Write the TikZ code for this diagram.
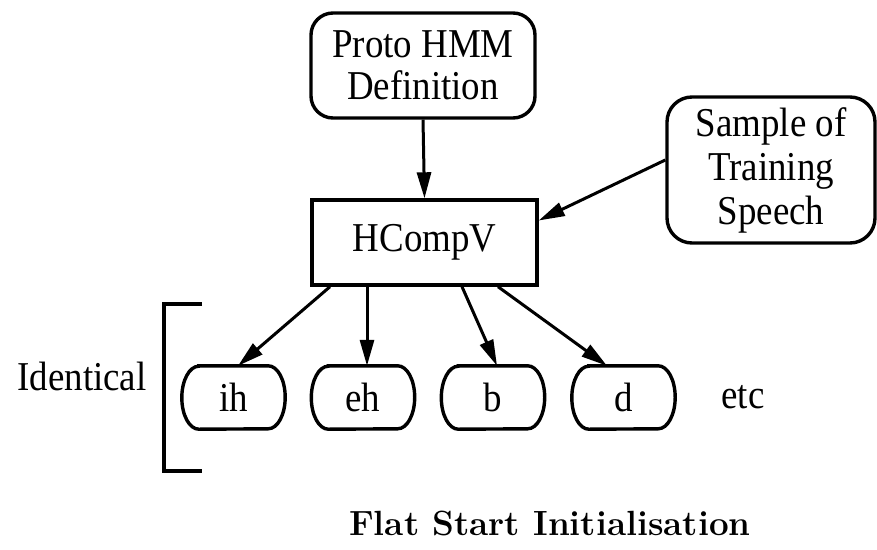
\documentclass[tikz,border=0pt]{standalone}
\usepackage{fontspec}
\newfontfamily\tms[FakeStretch=0.9]{Liberation Serif}
\usetikzlibrary{arrows.meta}
\tikzset{
  lbl/.style={font=\tms\fontsize{41}{42}\selectfont, align=center, inner sep=0pt},
  rbox/.style={lbl, draw, line width=3.4pt, rounded corners=22pt},
  sbox/.style={lbl, draw, line width=3.4pt},
  phone/.style={lbl, minimum width=103pt, minimum height=63pt},
  phoneline/.style={line width=3.4pt},
  arr/.style={line width=3pt, -{Triangle[length=26pt,width=14pt]}},
  brk/.style={line width=3.8pt}
}
\newcommand\ovalframe[1]{%
  \draw[phoneline] ([xshift=17pt]#1.north west) -- ([xshift=-17pt]#1.north east)
    arc[start angle=90,end angle=-90,x radius=17pt,y radius=31.5pt]
    -- ([xshift=17pt]#1.south west)
    arc[start angle=270,end angle=90,x radius=17pt,y radius=31.5pt] -- cycle;}
\begin{document}
\begin{tikzpicture}[x=1pt,y=-1pt]
\useasboundingbox (0,0) rectangle (877,549);
\node[rbox, minimum width=224pt, minimum height=105pt] (proto) at (423,65.5) {Proto HMM\\Definition};
\node[sbox, minimum width=225pt, minimum height=85pt] (hc) at (424.5,242.5) {HCompV};
\node[rbox, minimum width=208pt, minimum height=146pt, rounded corners=25pt] (sample) at (771,170) {Sample of\\[2pt]Training\\[2pt]Speech};
\node[phone] (ih) at (233.5,397.5) {ih};
\node[phone] (eh) at (363,397.5) {eh};
\node[phone] (b) at (493,397.5) {b};
\node[phone] (d) at (623.5,397.5) {d};
\ovalframe{ih}
\ovalframe{eh}
\ovalframe{b}
\ovalframe{d}
\node[lbl, anchor=base] (etc) at (743,408) {etc};
\node[lbl, anchor=base] (ident) at (82,390) {Identical};
\node[font=\bfseries\fontsize{35}{38}\selectfont, inner sep=0pt, anchor=base] (title) at (550,535) {Flat Start Initialisation};
\draw[arr] (proto.south) -- (hc.north);
\draw[arr] ([yshift=10pt]sample.west) -- ([yshift=22pt]hc.east);
\draw[arr] ([xshift=-94.5pt]hc.south) -- ([xshift=4.5pt]ih.north);
\draw[arr] ([xshift=-57.5pt]hc.south) -- ([xshift=4pt]eh.north);
\draw[arr] ([xshift=37.5pt]hc.south) -- ([xshift=4pt]b.north);
\draw[arr] ([xshift=73.5pt]hc.south) -- ([xshift=-16.5pt]d.north);
\coordinate (bt) at (202,304);
\coordinate (bb) at (202,471);
\draw[brk] (bt) -- (164,304) -- (164,471) -- (bb);
\end{tikzpicture}
\end{document}
